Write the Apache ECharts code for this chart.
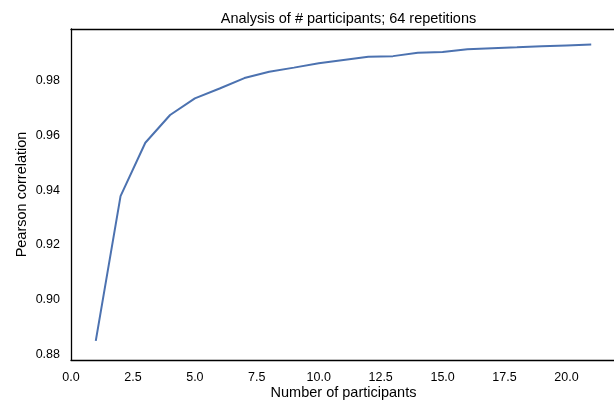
<!DOCTYPE html>
<html>
<head>
<meta charset="utf-8">
<script src="https://cdn.jsdelivr.net/npm/echarts@6/dist/echarts.min.js"></script>
<style>html,body{margin:0;padding:0;background:#fff}#c{width:614px;height:402px}</style>
</head>
<body>
<div id="c"></div>
<script>
const participants = [1,2,3,4,5,6,7,8,9,10,11,12,13,14,15,16,17,18,19,20,21];
const pearson = [0.8850,0.9378,0.9573,0.9674,0.9735,0.9771,0.9809,0.9832,0.9847,0.9863,0.9875,0.9887,0.9889,0.9901,0.9904,0.9914,0.9918,0.9921,0.9925,0.9928,0.9931];
const xTicks = [0,2.5,5,7.5,10,12.5,15,17.5,20];
const yTicks = [0.88,0.90,0.92,0.94,0.96,0.98];

const font = '"Liberation Sans", Arial, sans-serif';
const spine = {show:true,lineStyle:{color:'#000',width:1.3}};
const chart = echarts.init(document.getElementById('c'), null, {renderer:'canvas'});
chart.setOption({
  animation:false,
  backgroundColor:'#fff',
  title:{
    text:'Analysis of # participants; 64 repetitions',
    left:343.5, top:6.5, textAlign:'center',
    textStyle:{fontFamily:font,fontSize:14.5,fontWeight:'normal',color:'#000'}
  },
  grid:{left:71,top:29,right:-2,bottom:42,show:false,outerBoundsMode:'none',containLabel:false},
  xAxis:[{
    type:'value',min:0,max:22,position:'bottom',
    name:'Number of participants',nameLocation:'middle',nameGap:25,nameMoveOverlap:false,
    nameTextStyle:{fontFamily:font,fontSize:14.5,color:'#000'},
    axisLine:spine,axisTick:{show:false},splitLine:{show:false},
    axisLabel:{customValues:xTicks,margin:11,fontFamily:font,fontSize:12.5,color:'#000',
      formatter:v=>v.toFixed(1)}
  },{
    type:'value',min:0,max:22,position:'top',
    axisLine:spine,axisTick:{show:false},splitLine:{show:false},axisLabel:{show:false}
  }],
  yAxis:{
    type:'value',min:0.878,max:0.9988,
    name:'Pearson correlation',nameLocation:'middle',nameGap:42,nameMoveOverlap:false,
    nameTextStyle:{fontFamily:font,fontSize:14.5,color:'#000'},
    axisLine:spine,axisTick:{show:false},splitLine:{show:false},
    axisLabel:{customValues:yTicks,margin:11,fontFamily:font,fontSize:12.5,color:'#000',
      formatter:v=>v.toFixed(2)}
  },
  series:[{
    type:'line',xAxisIndex:0,
    data:participants.map((p,i)=>[p,pearson[i]]),
    showSymbol:false,symbol:'none',
    lineStyle:{color:'#4c72b0',width:2},
    itemStyle:{color:'#4c72b0'}
  }]
});
</script>
</body>
</html>
